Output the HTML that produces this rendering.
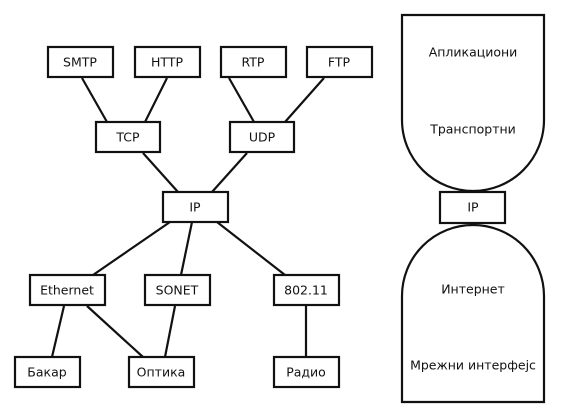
<!DOCTYPE html>
<html><head><meta charset="utf-8"><style>
html,body{margin:0;padding:0;background:#fff}
svg{display:block}
text{font-family:"DejaVu Sans","Liberation Sans",sans-serif;font-size:12.5px;fill:#111;text-anchor:middle;dominant-baseline:central}
</style></head><body>
<svg width="567" height="419" viewBox="0 0 567 419" xmlns="http://www.w3.org/2000/svg">
<g stroke="#111" stroke-width="2.2" fill="none">
<line x1="82" y1="78" x2="107" y2="122"/>
<line x1="167" y1="78" x2="145" y2="122"/>
<line x1="229" y1="78" x2="254" y2="122"/>
<line x1="324" y1="78" x2="285" y2="122"/>
<line x1="143" y1="153" x2="178" y2="192"/>
<line x1="247" y1="153" x2="212" y2="192"/>
<line x1="170" y1="222" x2="93" y2="275"/>
<line x1="192" y1="222" x2="181" y2="275"/>
<line x1="217" y1="222" x2="285" y2="275"/>
<line x1="64" y1="306" x2="52" y2="357"/>
<line x1="87" y1="306" x2="143" y2="357"/>
<line x1="175" y1="306" x2="165" y2="357"/>
<line x1="306" y1="306" x2="306" y2="357"/>
</g>
<g stroke="#111" stroke-width="2.2" fill="#fff">
<rect x="48" y="47" width="65" height="30"/>
<rect x="135" y="47" width="65" height="30"/>
<rect x="221" y="47" width="65" height="30"/>
<rect x="307" y="47" width="65" height="30"/>
<rect x="96" y="122" width="64" height="30"/>
<rect x="230" y="122" width="64" height="30"/>
<rect x="163" y="192" width="65" height="30"/>
<rect x="30" y="275" width="75" height="30"/>
<rect x="145" y="275" width="65" height="30"/>
<rect x="274" y="275" width="65" height="30"/>
<rect x="15" y="357" width="65" height="30"/>
<rect x="129" y="357" width="65" height="30"/>
<rect x="274" y="357" width="65" height="30"/>
<path d="M402 15 H544 V120 A71 71 0 0 1 402 120 Z"/>
<rect x="440" y="192" width="65" height="31"/>
<path d="M402 402 H544 V296 A71 71 0 0 0 402 296 Z"/>
</g>
<text x="80" y="62">SMTP</text>
<text x="167" y="62">HTTP</text>
<text x="253" y="62">RTP</text>
<text x="339" y="62">FTP</text>
<text x="128" y="137">TCP</text>
<text x="262" y="137">UDP</text>
<text x="195" y="207">IP</text>
<text x="67" y="290">Ethernet</text>
<text x="177" y="290">SONET</text>
<text x="306" y="290">802.11</text>
<text x="47" y="372">Бакар</text>
<text x="161" y="372">Оптика</text>
<text x="306" y="372">Радио</text>
<text x="473" y="52">Апликациони</text>
<text x="473" y="129">Транспортни</text>
<text x="473" y="207">IP</text>
<text x="473" y="289">Интернет</text>
<text x="473" y="365">Мрежни интерфејс</text>
</svg>
</body></html>
